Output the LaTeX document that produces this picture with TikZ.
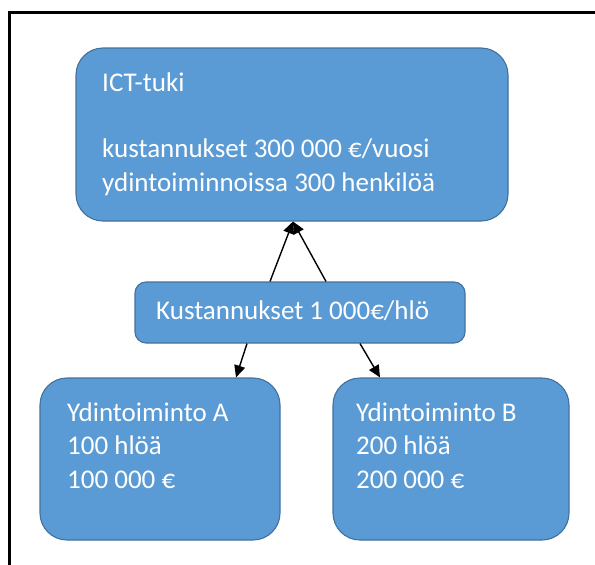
\documentclass[tikz,border=0pt]{standalone}
\usepackage{fontspec}
\setmainfont{Carlito}
\usetikzlibrary{arrows.meta}
\definecolor{boxfill}{RGB}{91,155,213}
\definecolor{boxline}{RGB}{65,113,156}
\tikzset{
  box/.style={draw=boxline, line width=1.1pt, fill=boxfill, inner sep=0pt},
  bigbox/.style={box, rounded corners=27pt},
  smallbox/.style={box, rounded corners=11pt},
  txt/.style={text=white, inner sep=0pt, align=left, font=\fontsize{27}{33.3}\selectfont},
  arr/.style={line width=1.4pt, -{Triangle[length=12pt,width=11pt]}}
}
\begin{document}
\begin{tikzpicture}[x=1pt,y=-1pt]
\useasboundingbox (0,0) rectangle (595,565);
\clip (0,0) rectangle (595,565);
\draw[line width=3pt] (9.5,600) -- (9.5,12.5) -- (620,12.5);
\node[bigbox, minimum width=432pt, minimum height=173pt] (ict) at (292,134.5) {};
\node[smallbox, minimum width=330pt, minimum height=61pt] (mid) at (300,312.5) {};
\node[bigbox, minimum width=240pt, minimum height=162pt] (bl) at (160,459) {};
\node[bigbox, minimum width=236pt, minimum height=162pt] (br) at (451,459) {};
\node[txt, anchor=base west] (ictt) at (102,191) {ICT-tuki\\[33.3pt]kustannukset 300 000 €/vuosi\\ydintoiminnoissa 300 henkilöä};
\node[txt, anchor=base west] (midt) at (156,319) {Kustannukset 1 000€/hlö};
\node[txt, anchor=base west] (blt) at (67,488) {Ydintoiminto A\\100 hlöä\\100 000 €};
\node[txt, anchor=base west] (brt) at (356,488) {Ydintoiminto B\\200 hlöä\\200 000 €};
\draw[arr] ([xshift=-30pt]mid.north) -- ([xshift=1pt]ict.south);
\draw[arr] ([xshift=26pt]mid.north) -- ([xshift=1pt]ict.south);
\draw[arr] ([xshift=-53pt]mid.south) -- ([xshift=76pt]bl.north);
\draw[arr] ([xshift=60pt]mid.south) -- ([xshift=-71pt]br.north);
\end{tikzpicture}
\end{document}
